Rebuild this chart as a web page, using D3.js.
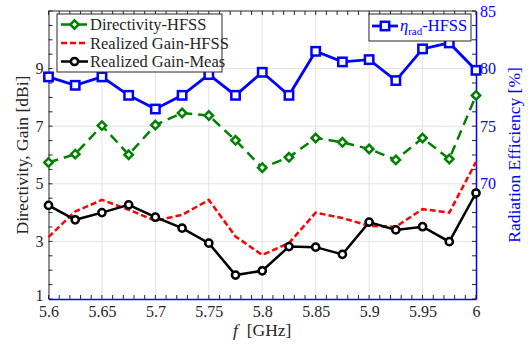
<!DOCTYPE html>
<html>
<head>
<meta charset="utf-8">
<script src="https://cdn.jsdelivr.net/npm/d3@7"></script>
<style>
  html, body { margin: 0; padding: 0; background: #fff; }
  svg, svg text { font-family: "Liberation Serif", "Times New Roman", Tinos, "DejaVu Serif", serif !important; }
</style>
</head>
<body>
<svg id="chart" width="528" height="349"></svg>
<script>
// Frequency sweep (GHz)
const freq = [5.6, 5.625, 5.65, 5.675, 5.7, 5.725, 5.75, 5.775, 5.8, 5.825, 5.85, 5.875, 5.9, 5.925, 5.95, 5.975, 6.0];
// Left axis series (dBi)
const directivityHFSS = [5.74, 6.03, 7.02, 6.01, 7.04, 7.46, 7.37, 6.51, 5.56, 5.92, 6.59, 6.44, 6.21, 5.83, 6.59, 5.86, 8.07];
const gainHFSS = [3.15, 4.04, 4.44, 4.10, 3.72, 3.92, 4.44, 3.17, 2.53, 2.94, 4.00, 3.81, 3.54, 3.51, 4.12, 4.00, 5.76];
const gainMeas = [4.25, 3.75, 4.00, 4.27, 3.84, 3.46, 2.94, 1.83, 1.98, 2.82, 2.80, 2.55, 3.67, 3.40, 3.51, 2.99, 4.68];
// Right axis series (%)
const etaRad = [79.28, 78.55, 79.28, 77.68, 76.49, 77.68, 79.48, 77.68, 79.68, 77.68, 81.50, 80.58, 80.78, 78.96, 81.71, 82.23, 79.85];
// Tick labels
const xTicks = [5.6, 5.65, 5.7, 5.75, 5.8, 5.85, 5.9, 5.95, 6];
const yLeftTicks = [1, 3, 5, 7, 9];
const yRightTicks = [70, 75, 80, 85];

const svg = d3.select("#chart");
const L = 48.5, R = 476, T = 11, B = 299;

const x = d3.scaleLinear().domain([5.6, 6.0]).range([L, R]);
const yL = d3.scaleLinear().domain([1, 11]).range([B, T]);
const yR = d3.scaleLinear().domain([60, 85]).range([B, T]);

const blue = "#0000ff", green = "#008000", red = "#ff0000", black = "#000000";
const axisGray = "#262626";
const serif = '"Liberation Serif", "Times New Roman", Tinos, "DejaVu Serif", serif';

// Grid
const grid = svg.append("g");
grid.selectAll(".gx").data(xTicks.slice(1, -1)).join("line")
  .attr("x1", d => x(d)).attr("x2", d => x(d)).attr("y1", T).attr("y2", B)
  .attr("stroke", "#e3e3e3").attr("stroke-width", 1);
grid.selectAll(".gy").data([3, 5, 7, 9]).join("line")
  .attr("x1", L).attr("x2", R).attr("y1", d => yL(d)).attr("y2", d => yL(d))
  .attr("stroke", "#e3e3e3").attr("stroke-width", 1);

// Axes (inward ticks)
const minorX = d3.range(0, 41).map(i => 5.6 + i * 0.01);
const axX = d3.axisBottom(x).tickValues(xTicks).tickFormat(d3.format("~g")).tickSizeInner(0).tickSizeOuter(0).tickPadding(7);
const gx = svg.append("g").attr("transform", `translate(0,${B})`).call(axX).attr("font-family", serif);
gx.select(".domain").attr("stroke", blue).attr("stroke-width", 1.5);
gx.selectAll("text").attr("font-size", 16).attr("fill", axisGray);
svg.append("g").selectAll("line").data(minorX).join("line")
  .attr("x1", d => x(d)).attr("x2", d => x(d)).attr("y1", B).attr("y2", B - 4)
  .attr("stroke", axisGray).attr("stroke-width", 1);
// top border with ticks
svg.append("line").attr("x1", L).attr("x2", R).attr("y1", T).attr("y2", T).attr("stroke", axisGray).attr("stroke-width", 1);
svg.append("g").selectAll("line").data(minorX).join("line")
  .attr("x1", d => x(d)).attr("x2", d => x(d)).attr("y1", T).attr("y2", T + 4)
  .attr("stroke", axisGray).attr("stroke-width", 1);

const minorY = d3.range(0, 21).map(i => 1 + i * 0.5);
const axL = d3.axisLeft(yL).tickValues(yLeftTicks).tickFormat(d3.format("d")).tickSizeInner(0).tickSizeOuter(0).tickPadding(5);
const gl = svg.append("g").attr("transform", `translate(${L},0)`).call(axL).attr("font-family", serif);
gl.select(".domain").attr("stroke", axisGray).attr("stroke-width", 1);
gl.selectAll("text").attr("font-size", 16).attr("fill", axisGray);
gl.selectAll(".tick").filter(d => d === 1).select("text").attr("dy", "0.1em");
svg.append("g").selectAll("line").data(minorY).join("line")
  .attr("x1", L).attr("x2", L + 4).attr("y1", d => yL(d)).attr("y2", d => yL(d))
  .attr("stroke", axisGray).attr("stroke-width", 1);

const axR = d3.axisRight(yR).tickValues(yRightTicks).tickFormat(d3.format("d")).tickSizeInner(0).tickSizeOuter(0).tickPadding(4);
const gr = svg.append("g").attr("transform", `translate(${R},0)`).call(axR).attr("font-family", serif);
gr.select(".domain").attr("stroke", blue).attr("stroke-width", 1.5);
gr.selectAll("text").attr("font-size", 16).attr("fill", blue);
svg.append("g").selectAll("line").data(minorY).join("line")
  .attr("x1", R).attr("x2", R - 4).attr("y1", d => yL(d)).attr("y2", d => yL(d))
  .attr("stroke", axisGray).attr("stroke-width", 1);

// Axis titles
svg.append("text").attr("transform", `translate(28,${(T + B) / 2}) rotate(-90)`)
  .attr("text-anchor", "middle").attr("font-size", 17.5).attr("fill", axisGray)
  .text("Directivity, Gain [dBi]");
svg.append("text").attr("transform", `translate(520,${(T + B) / 2}) rotate(-90)`)
  .attr("text-anchor", "middle").attr("font-size", 17.5).attr("fill", blue)
  .text("Radiation Efficiency [%]");
const xl = svg.append("text").attr("x", (L + R) / 2).attr("y", 336)
  .attr("text-anchor", "middle").attr("font-size", 17.5).attr("fill", axisGray);
xl.append("tspan").attr("font-style", "italic").text("f");
xl.append("tspan").text("\u00a0\u00a0[GHz]");

// Series
const lineL = arr => d3.line().x((d, i) => x(freq[i])).y(d => yL(d))(arr);
const lineR = arr => d3.line().x((d, i) => x(freq[i])).y(d => yR(d))(arr);

const plot = svg.append("g");
plot.append("path").attr("d", lineL(gainHFSS)).attr("fill", "none")
  .attr("stroke", red).attr("stroke-width", 2.5).attr("stroke-dasharray", "6,3");
plot.append("path").attr("d", lineL(directivityHFSS)).attr("fill", "none")
  .attr("stroke", green).attr("stroke-width", 2.5).attr("stroke-dasharray", "10,6");
plot.append("path").attr("d", lineL(gainMeas)).attr("fill", "none")
  .attr("stroke", black).attr("stroke-width", 2.5);
plot.append("path").attr("d", lineR(etaRad)).attr("fill", "none")
  .attr("stroke", blue).attr("stroke-width", 2.8);

// Markers
const diamond = (cx, cy, s) => `M${cx},${cy - s}L${cx + s},${cy}L${cx},${cy + s}L${cx - s},${cy}Z`;
plot.append("g").selectAll("path").data(directivityHFSS).join("path")
  .attr("d", (d, i) => diamond(x(freq[i]), yL(d), 4.2))
  .attr("fill", "#fff").attr("stroke", green).attr("stroke-width", 2.5);
plot.append("g").selectAll("circle").data(gainMeas).join("circle")
  .attr("cx", (d, i) => x(freq[i])).attr("cy", d => yL(d)).attr("r", 3.6)
  .attr("fill", "#fff").attr("stroke", black).attr("stroke-width", 2.5);
plot.append("g").selectAll("rect").data(etaRad).join("rect")
  .attr("x", (d, i) => x(freq[i]) - 4.2).attr("y", d => yR(d) - 4.2)
  .attr("width", 8.4).attr("height", 8.4)
  .attr("fill", "#fff").attr("stroke", blue).attr("stroke-width", 2.5);

// Left legend
const lg = svg.append("g");
lg.append("rect").attr("x", 57).attr("y", 14).attr("width", 165).attr("height", 58)
  .attr("fill", "#fff").attr("stroke", axisGray).attr("stroke-width", 1);
const entries = [
  { name: "Directivity-HFSS", color: green, dash: "10,6", mark: "diamond" },
  { name: "Realized Gain-HFSS", color: red, dash: "6,3", mark: null },
  { name: "Realized Gain-Meas", color: black, dash: null, mark: "circle" }
];
entries.forEach((e, i) => {
  const cy = 24.5 + i * 18.5;
  lg.append("line").attr("x1", 61).attr("x2", 88).attr("y1", cy).attr("y2", cy)
    .attr("stroke", e.color).attr("stroke-width", 2.5).attr("stroke-dasharray", e.dash);
  if (e.mark === "diamond") lg.append("path").attr("d", diamond(74.5, cy, 4.2)).attr("fill", "#fff").attr("stroke", e.color).attr("stroke-width", 2.5);
  if (e.mark === "circle") lg.append("circle").attr("cx", 74.5).attr("cy", cy).attr("r", 3.6).attr("fill", "#fff").attr("stroke", e.color).attr("stroke-width", 2.5);
  lg.append("text").attr("x", 90).attr("y", cy + 5.5).attr("font-size", 16.5).attr("fill", axisGray).text(e.name);
});

// Right legend
const rg = svg.append("g");
rg.append("rect").attr("x", 369).attr("y", 14).attr("width", 102).attr("height", 27)
  .attr("fill", "#fff").attr("stroke", axisGray).attr("stroke-width", 1);
rg.append("line").attr("x1", 372).attr("x2", 398).attr("y1", 26).attr("y2", 26)
  .attr("stroke", blue).attr("stroke-width", 2.8);
rg.append("rect").attr("x", 385 - 4.2).attr("y", 26 - 4.2).attr("width", 8.4).attr("height", 8.4)
  .attr("fill", "#fff").attr("stroke", blue).attr("stroke-width", 2.5);
const rt = rg.append("text").attr("x", 400).attr("y", 31).attr("font-size", 16.5).attr("fill", blue);
rt.append("tspan").attr("font-style", "italic").text("\u03b7");
rt.append("tspan").attr("font-size", 11).attr("dy", 4).text("rad");
rt.append("tspan").attr("dy", -4).text("-HFSS");
</script>
</body>
</html>
